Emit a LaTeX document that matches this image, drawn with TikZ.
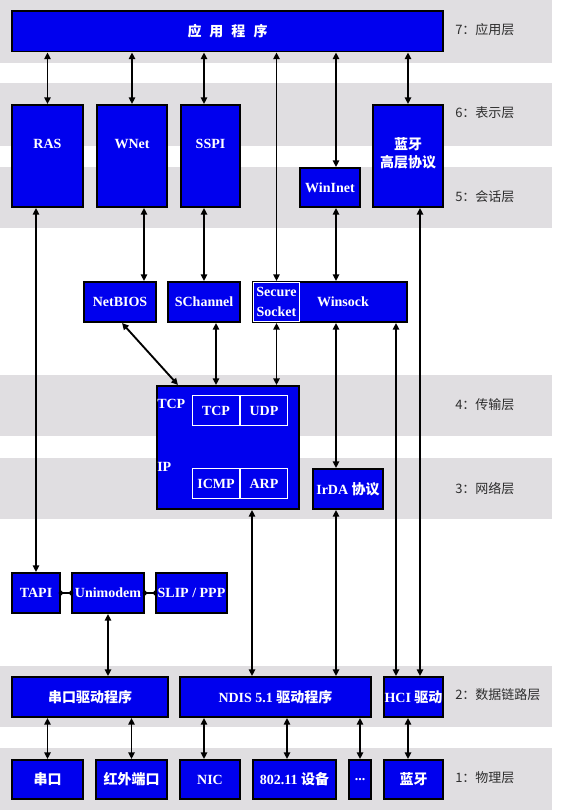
\documentclass[tikz,border=0pt]{standalone}
\usepackage{fontspec}
\setmainfont{Liberation Serif}
\newfontfamily\cjk{Noto Sans CJK SC}
\usetikzlibrary{arrows.meta,calc}
\definecolor{boxblue}{RGB}{0,0,238}
\definecolor{bandgray}{RGB}{224,222,225}
\definecolor{lyrtext}{RGB}{45,45,45}
\tikzset{
  blk/.style 2 args={draw=black, fill=boxblue, line width=1.2pt, text=white,
    font=\fontsize{10.5}{14}\selectfont\bfseries, inner sep=0pt, align=center,
    minimum width=(#1-1.6)*0.75pt, minimum height=(#2-1.6)*0.75pt},
  sub/.style 2 args={draw=white, line width=0.7pt, text=white,
    font=\fontsize{10.5}{15}\selectfont\bfseries, inner sep=0pt, align=center,
    minimum width=(#1-1)*0.75pt, minimum height=(#2-1)*0.75pt},
  boxtxt/.style={text=white, font=\fontsize{10.5}{14}\selectfont\bfseries, inner sep=0pt},
  toptext/.style={label={[boxtxt,yshift=9pt]center:#1}},
  lyr/.style={anchor=west, text=lyrtext, font=\cjk\fontsize{9.75}{12}\selectfont, inner sep=0pt},
  link/.style={{Triangle[length=5pt,width=4.8pt]}-{Triangle[length=5pt,width=4.8pt]}, line width=1.4pt},
  dotlink/.style={{Circle[length=3.2pt]}-{Circle[length=3.2pt]}, line width=1.4pt,
    shorten <=-1.6pt, shorten >=-1.6pt},
  band/.style={fill=bandgray}
}
\begin{document}
\begin{tikzpicture}[x=0.75pt,y=-0.75pt]
  \useasboundingbox (0,0) rectangle (565,812);
  \fill[white] (0,0) rectangle (565,812);
  \fill[band] (0,0) rectangle (552,63);
  \fill[band] (0,83) rectangle (552,146);
  \fill[band] (0,167) rectangle (552,228);
  \fill[band] (0,375) rectangle (552,436);
  \fill[band] (0,458) rectangle (552,519);
  \fill[band] (0,666) rectangle (552,727);
  \fill[band] (0,748) rectangle (552,810);

  \node[lyr] (l7) at (455,30) {7：应用层};
  \node[lyr] (l6) at (455,113) {6：表示层};
  \node[lyr] (l5) at (455,197) {5：会话层};
  \node[lyr] (l4) at (455,405) {4：传输层};
  \node[lyr] (l3) at (455,489) {3：网络层};
  \node[lyr] (l2) at (455,695) {2：数据链路层};
  \node[lyr] (l1) at (455,778) {1：物理层};

  \node[blk={433}{42}] (app) at (227.5,31.5) {\cjk 应\hspace{6pt}用\hspace{6pt}程\hspace{6pt}序};
  \node[blk={73}{104}, toptext=RAS] (ras) at (47.5,156) {};
  \node[blk={72}{104}, toptext=WNet] (wnet) at (132,156) {};
  \node[blk={61}{104}, toptext=SSPI] (sspi) at (210.5,156) {};
  \node[blk={62}{41}] (wininet) at (330,187.5) {WinInet};
  \node[blk={72}{104}, label={[boxtxt,font=\cjk\fontsize{10.5}{14}\selectfont\bfseries,
    align=center,yshift=2pt]center:{蓝牙\\高层协议}}] (bthigh) at (408,156) {};

  \node[blk={74}{42}] (netbios) at (120,302) {NetBIOS};
  \node[blk={74}{42}] (schannel) at (204,302) {SChannel};
  \node[blk={156}{42}] (winsock) at (330,302) {\hspace{19.5pt}Winsock};
  \node[sub={47}{40}] (secure) at (276.5,302) {Secure\\Socket};

  \node[blk={144}{125}] (tcpip) at (228,447.5) {};
  \node[boxtxt, anchor=west] (tcplbl) at (157,404) {TCP};
  \node[boxtxt, anchor=west] (iplbl) at (157,467) {IP};
  \node[sub={48}{31}] (tcp) at (216,410.5) {TCP};
  \node[sub={48}{31}] (udp) at (264,410.5) {UDP};
  \node[sub={48}{31}] (icmp) at (216,483.5) {ICMP};
  \node[sub={48}{31}] (arp) at (264,483.5) {ARP};
  \node[blk={72}{42}] (irda) at (348,489) {IrDA {\cjk 协议}};

  \node[blk={50}{42}] (tapi) at (36,593) {TAPI};
  \node[blk={74}{42}] (unimodem) at (108,593) {Unimodem};
  \node[blk={73}{42}] (slip) at (191.5,593) {SLIP / PPP};

  \node[blk={158}{42}] (serdrv) at (90,697) {\cjk 串口驱动程序};
  \node[blk={193}{42}] (ndis) at (275.5,697) {NDIS 5.1 {\cjk 驱动程序}};
  \node[blk={61}{42}] (hci) at (413.5,697) {HCI {\cjk 驱动}};

  \node[blk={73}{41}] (serial) at (47.5,779.5) {\cjk 串口};
  \node[blk={73}{41}] (irport) at (131.5,779.5) {\cjk 红外端口};
  \node[blk={62}{41}] (nic) at (210,779.5) {NIC};
  \node[blk={85}{41}] (wifi) at (294.5,779.5) {802.11 {\cjk 设备}};
  \node[blk={24}{41}] (dots) at (360,779.5) {...};
  \node[blk={61}{41}] (bt) at (413.5,779.5) {\cjk 蓝牙};

  \draw[link] (ras.north) -- (app.south -| ras.north);
  \draw[link] (wnet.north) -- (app.south -| wnet.north);
  \draw[link] ($(sspi.north)+(-6.5,0)$) -- ($(app.south -| sspi.north)+(-6.5,0)$);
  \draw[link] (winsock.north -| secure.north) -- (app.south -| secure.north);
  \draw[link] ($(wininet.north)+(6,0)$) -- ($(app.south -| wininet.north)+(6,0)$);
  \draw[link] (bthigh.north) -- (app.south -| bthigh.north);
  \draw[link] (tapi.north) -- (ras.south -| tapi.north);
  \draw[link] ($(wnet.south)+(12,0)$) -- ($(netbios.north -| wnet.south)+(12,0)$);
  \draw[link] (schannel.north) -- (sspi.south -| schannel.north);
  \draw[link] ($(wininet.south)+(6,0)$) -- ($(winsock.north -| wininet.south)+(6,0)$);
  \draw[link] ($(bthigh.south)+(12,0)$) -- ($(hci.north -| bthigh.south)+(12,0)$);
  \draw[link] ($(netbios.south)+(2,0)$) -- ($(tcpip.north west)+(22,0)$);
  \draw[link] (tcpip.north -| tcp.north) -- (schannel.south -| tcp.north);
  \draw[link] (winsock.south -| secure.south) -- (tcpip.north -| secure.south);
  \draw[link] ($(irda.north)+(-12,0)$) -- ($(winsock.south -| irda.north)+(-12,0)$);
  \draw[link] ($(hci.north)+(-17.5,0)$) -- ($(winsock.south -| hci.north)+(-17.5,0)$);
  \draw[link] ($(tcpip.south)+(24,0)$) -- ($(ndis.north -| tcpip.south)+(24,0)$);
  \draw[link] ($(irda.south)+(-12,0)$) -- ($(ndis.north -| irda.south)+(-12,0)$);
  \draw[dotlink] (tapi.east) -- (unimodem.west);
  \draw[dotlink] (unimodem.east) -- (slip.west);
  \draw[link] (unimodem.south) -- (serdrv.north -| unimodem.south);
  \draw[link] (serial.north) -- (serdrv.south -| serial.north);
  \draw[link] (irport.north) -- (serdrv.south -| irport.north);
  \draw[link] ($(nic.north)+(-6,0)$) -- ($(ndis.south -| nic.north)+(-6,0)$);
  \draw[link] ($(wifi.north)+(-7.5,0)$) -- ($(ndis.south -| wifi.north)+(-7.5,0)$);
  \draw[link] (dots.north) -- (ndis.south -| dots.north);
  \draw[link] ($(bt.north)+(-5.5,0)$) -- ($(hci.south -| bt.north)+(-5.5,0)$);
\end{tikzpicture}
\end{document}
